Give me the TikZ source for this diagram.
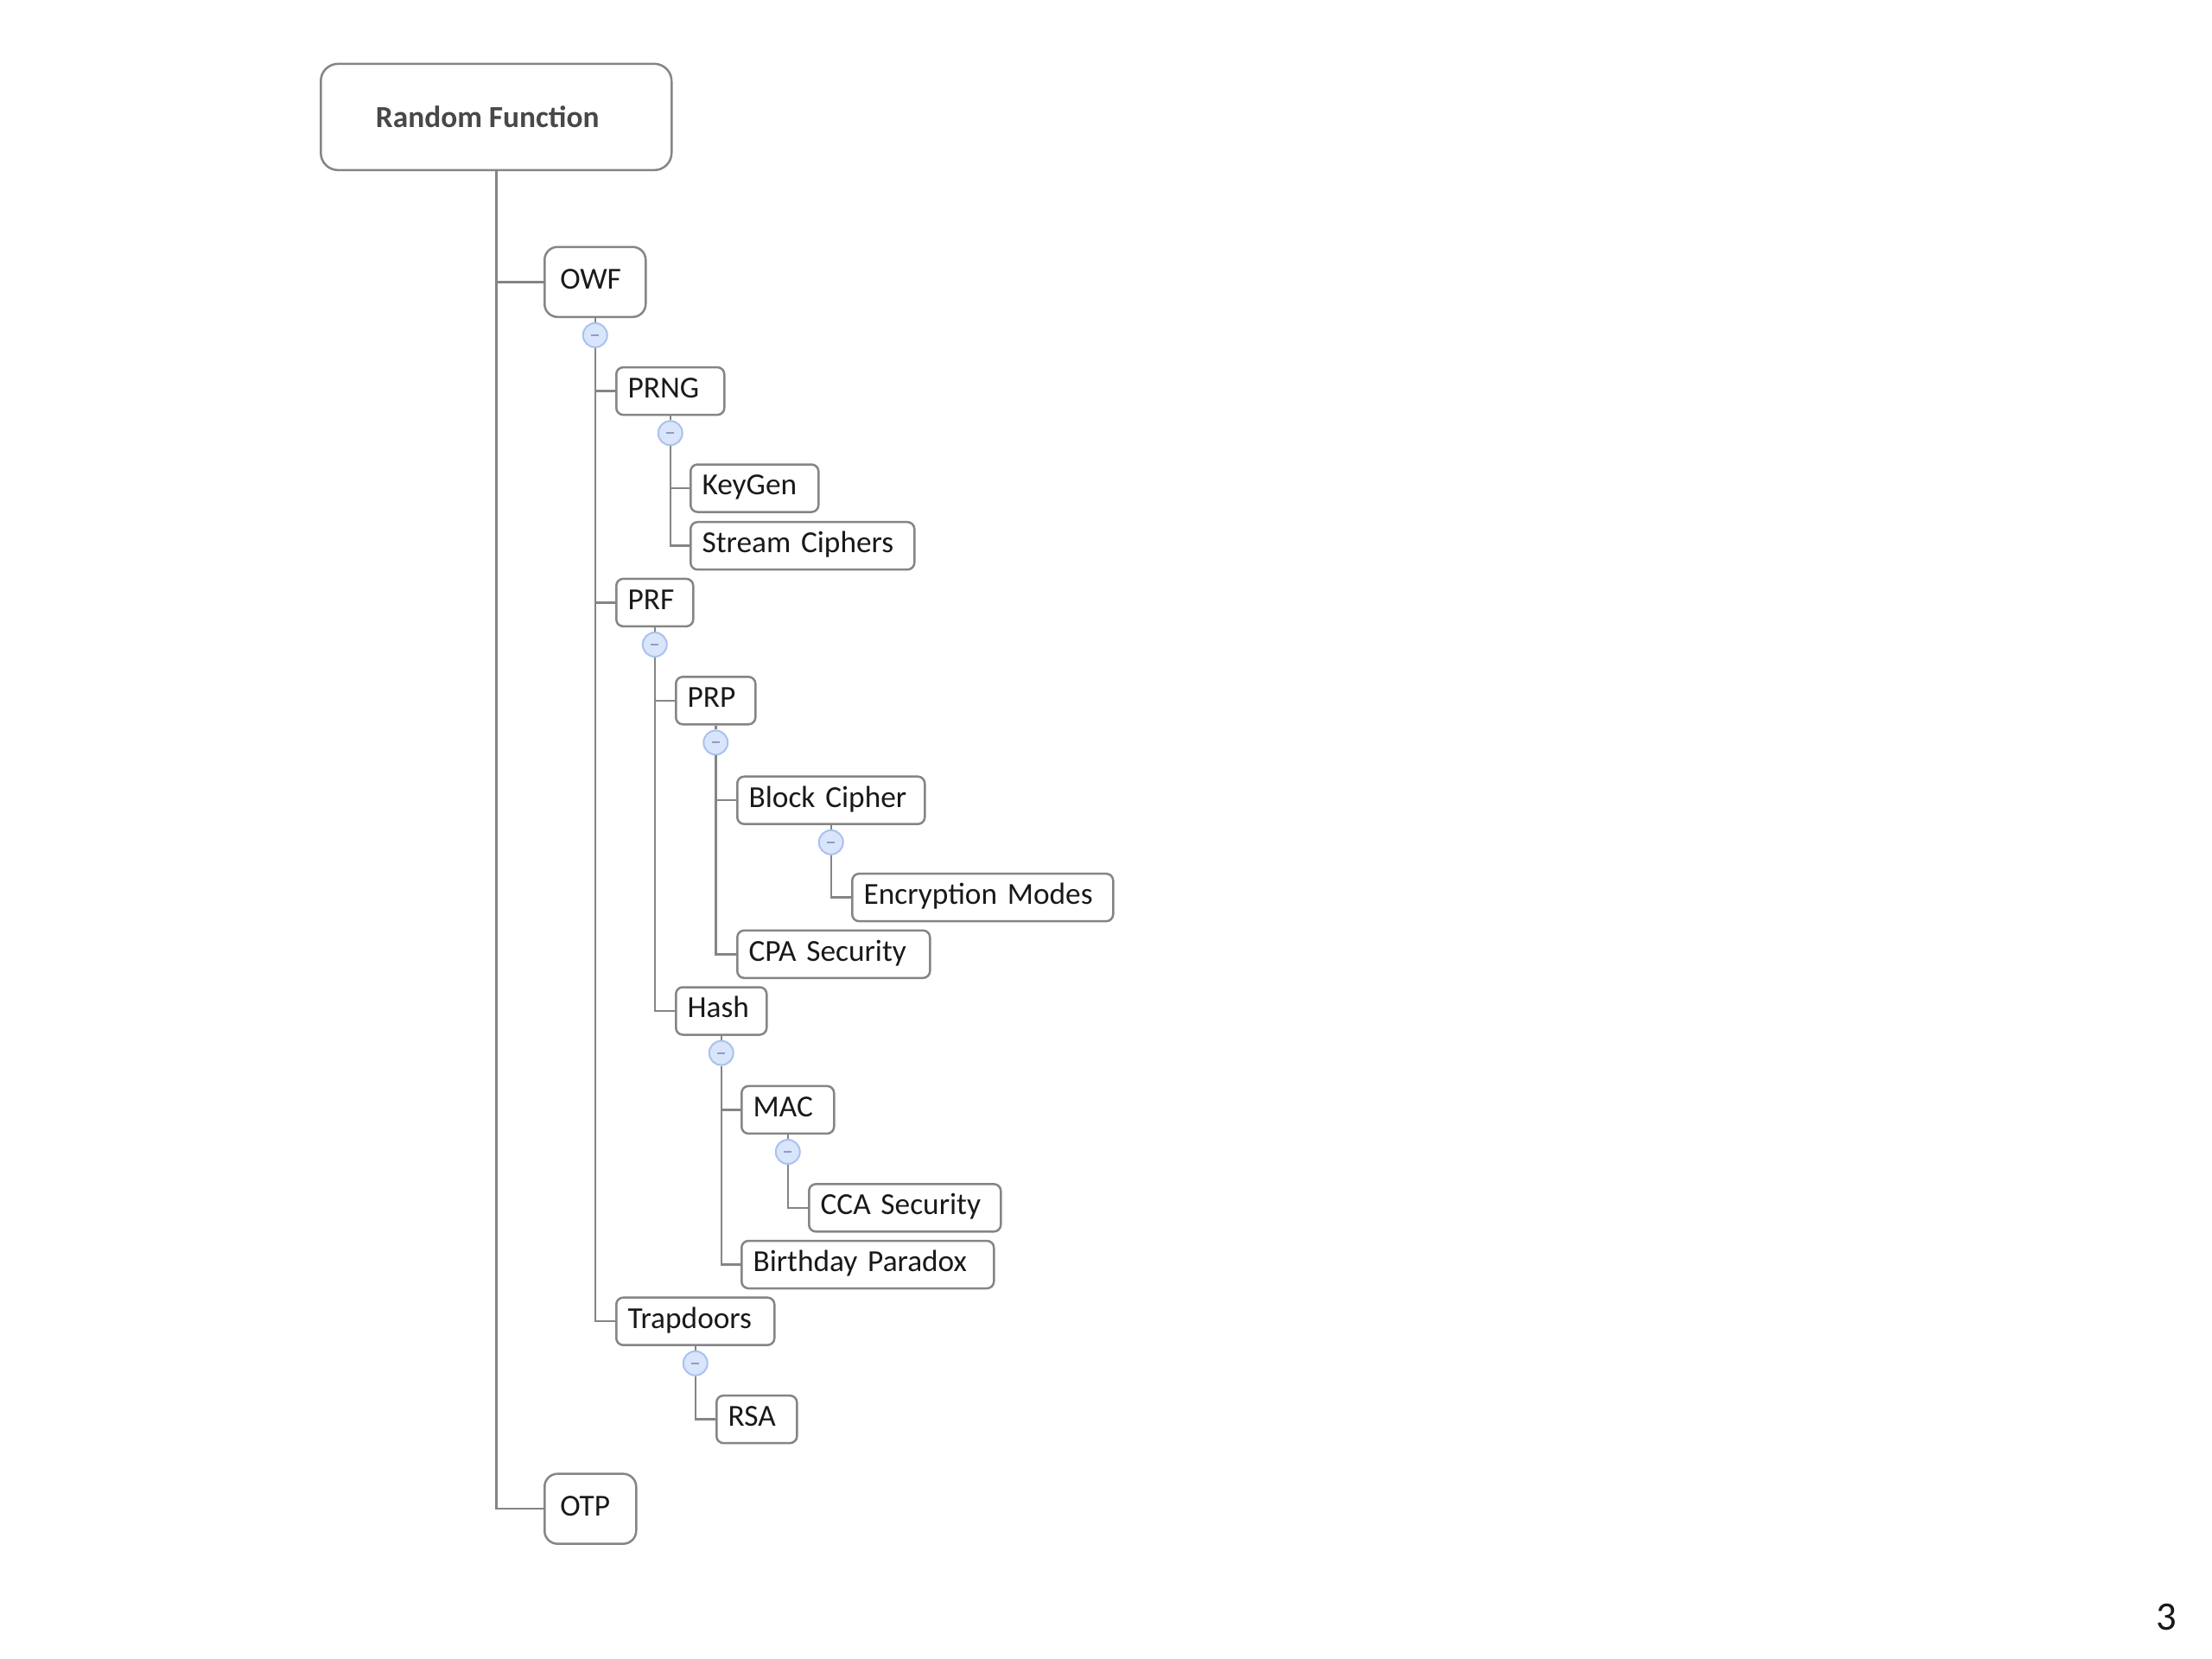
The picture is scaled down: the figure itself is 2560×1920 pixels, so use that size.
\documentclass[tikz,border=0pt]{standalone}
\usepackage{fontspec}
\setmainfont{Carlito}
\newfontfamily\kidfont{Carlito}
\usetikzlibrary{calc}
\definecolor{linegray}{HTML}{858585}
\definecolor{boxgray}{HTML}{858585}
\definecolor{togfill}{HTML}{D9E5FA}
\definecolor{togdraw}{HTML}{A9C2EE}
\definecolor{togminus}{HTML}{8A9FC6}
\definecolor{rftext}{HTML}{484848}
\newcommand\kidbox[6]{%
  \pgfmathsetmacro\kidw{#4*0.3-8}%
  \pgfmathsetmacro\kidh{#5*0.3}%
  \node[cbox,anchor=north west,text width=\kidw pt,minimum height=\kidh pt] (#1) at (#2,#3) {#6};}
\newcommand\toggle[1]{\node[tog] (#1c) at ($(#1.south)+(0,20)$) {};\draw[conn] (#1.south) -- (#1c);}
\begin{document}
\begin{tikzpicture}[x={(0.3pt,0)},y={(0,-0.3pt)},
  conn/.style={draw=linegray,line width=0.75pt},
  cbox/.style={draw=boxgray,fill=white,line width=0.75pt,rounded corners=2.4pt,inner xsep=4pt,inner ysep=0pt,
    font=\kidfont\fontsize{10.6}{12}\selectfont,text=black!90,align=left,text height=7.2pt,text depth=2.5pt},
  bigbox/.style={cbox,rounded corners=4.5pt,inner xsep=5.4pt},
  rfbox/.style={draw=boxgray,fill=white,line width=0.75pt,rounded corners=6pt,inner sep=0pt,
    font=\bfseries\fontsize{10.6}{12}\selectfont,text=rftext,align=center},
  tog/.style={circle,draw=togdraw,fill=togfill,line width=0.6pt,minimum size=8.4pt,inner sep=0pt,
    path picture={\draw[togminus,line width=0.6pt] ([xshift=-1.3pt]path picture bounding box.center) -- ([xshift=1.3pt]path picture bounding box.center);}}
]
\fill[white] (0,0) rectangle (2560,1920);
\useasboundingbox (0,0) rectangle (2560,1920);

\begin{scope}[shift={(-3,-1)},yscale=0.995]
\node[rfbox,anchor=north west,minimum width=121.8pt,minimum height=36.9pt] (RF) at (373,74) {Random Function\hspace*{6pt}};
\node[bigbox,anchor=north west,text width=24.3pt,minimum height=24.3pt] (OWF) at (632,287) {OWF};
\node[bigbox,anchor=north west,text width=21pt,minimum height=24.3pt] (OTP) at (632,1714) {OTP};

\kidbox{PRNG}{715}{427}{125}{55}{PRNG}
\kidbox{KeyGen}{801}{540}{148}{55}{KeyGen}
\kidbox{Stream}{801}{607}{259}{55}{Stream Ciphers}
\kidbox{PRF}{715}{673}{89}{55}{PRF}
\kidbox{PRP}{784}{787}{92}{55}{PRP}
\kidbox{Block}{855}{903}{217}{55}{Block Cipher}
\kidbox{Modes}{988}{1016}{302}{55}{Encryption Modes}
\kidbox{CPA}{855}{1082}{223}{55}{CPA Security}
\kidbox{Hash}{784}{1148}{105}{55}{Hash}
\kidbox{MAC}{860}{1263}{107}{55}{MAC}
\kidbox{CCA}{938}{1377}{222}{55}{CCA Security}
\kidbox{Birthday}{860}{1443}{292}{55}{Birthday Paradox}
\kidbox{Trap}{715}{1509}{183}{55}{Trapdoors}
\kidbox{RSA}{831}{1623}{93}{55}{RSA}

\toggle{OWF}
\toggle{PRNG}
\toggle{PRF}
\toggle{PRP}
\toggle{Block}
\toggle{Hash}
\toggle{MAC}
\toggle{Trap}

\draw[conn] (RF.south) |- (OWF.west);
\draw[conn] (RF.south) |- (OTP.west);
\draw[conn] (OWFc) |- (PRNG.west);
\draw[conn] (OWFc) |- (PRF.west);
\draw[conn] (OWFc) |- (Trap.west);
\draw[conn] (PRNGc) |- (KeyGen.west);
\draw[conn] (PRNGc) |- (Stream.west);
\draw[conn] (PRFc) |- (PRP.west);
\draw[conn] (PRFc) |- (Hash.west);
\draw[conn] (PRPc) |- (Block.west);
\draw[conn] (PRPc) |- (CPA.west);
\draw[conn] (Blockc) |- (Modes.west);
\draw[conn] (Hashc) |- (MAC.west);
\draw[conn] (Hashc) |- (Birthday.west);
\draw[conn] (MACc) |- (CCA.west);
\draw[conn] (Trapc) |- (RSA.west);
\end{scope}

\node[font=\fontsize{14}{16}\selectfont,text=black!90] (page) at (2507,1872) {3};
\end{tikzpicture}
\end{document}
